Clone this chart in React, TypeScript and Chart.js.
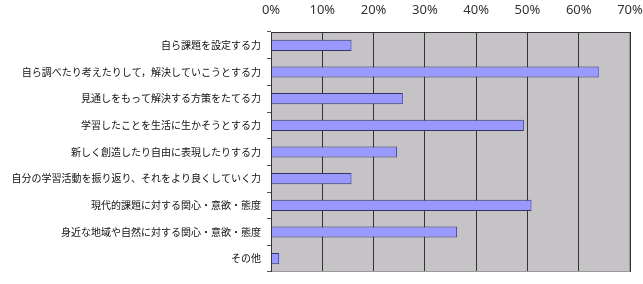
import React, { useEffect, useRef } from "react";
import { Chart, registerables } from "chart.js";

Chart.register(...registerables);

const categories = [
  "自ら課題を設定する力",
  "自ら調べたり考えたりして，解決していこうとする力",
  "見通しをもって解決する方策をたてる力",
  "学習したことを生活に生かそうとする力",
  "新しく創造したり自由に表現したりする力",
  "自分の学習活動を振り返り、それをより良くしていく力",
  "現代的課題に対する関心・意欲・態度",
  "身近な地域や自然に対する関心・意欲・態度",
  "その他",
];
const values = [15.7, 63.9, 25.7, 49.3, 24.6, 15.7, 50.8, 36.3, 1.6];
const xTicks = [0, 10, 20, 30, 40, 50, 60, 70];

const bgPlugin = {
  id: "plotBg",
  beforeDraw(chart: any) {
    const { ctx, chartArea } = chart;
    if (!chartArea) return;
    ctx.save();
    ctx.fillStyle = "#c6c3c6";
    ctx.fillRect(chartArea.left, chartArea.top, chartArea.right - chartArea.left, chartArea.bottom - chartArea.top);
    ctx.restore();
  },
  afterDatasetsDraw(chart: any) {
    const { ctx, chartArea } = chart;
    ctx.save();
    ctx.strokeStyle = "#9a9a9a";
    ctx.lineWidth = 1;
    ctx.beginPath();
    ctx.moveTo(chartArea.right - 0.5, chartArea.top);
    ctx.lineTo(chartArea.right - 0.5, chartArea.bottom - 0.5);
    ctx.lineTo(chartArea.left, chartArea.bottom - 0.5);
    ctx.stroke();
    ctx.strokeStyle = "#333";
    ctx.beginPath();
    ctx.moveTo(chartArea.left + 0.5, chartArea.bottom);
    ctx.lineTo(chartArea.left + 0.5, chartArea.top + 0.5);
    ctx.lineTo(chartArea.right, chartArea.top + 0.5);
    ctx.stroke();
    ctx.restore();
  },
};

export default function App() {
  const ref = useRef<HTMLCanvasElement>(null);
  useEffect(() => {
    document.body.style.margin = "0";
    const chart = new Chart(ref.current!, {
      type: "bar",
      data: {
        labels: categories,
        datasets: [
          {
            data: values,
            backgroundColor: "#9999ff",
            borderColor: "#333366",
            borderWidth: 1,
            barPercentage: 0.42,
            categoryPercentage: 1,
          },
        ],
      },
      options: {
        indexAxis: "y",
        animation: false,
        responsive: false,
        layout: { padding: { left: 0, right: 13, top: 0, bottom: 5 } },
        plugins: { legend: { display: false }, tooltip: { enabled: false } },
        scales: {
          x: {
            position: "top",
            min: 0,
            max: 70,
            afterBuildTicks: (s: any) => {
              s.ticks = xTicks.map((v) => ({ value: v }));
            },
            afterFit: (s: any) => {
              s.height = 32;
              s.paddingLeft = 0;
              s.paddingRight = 0;
            },
            border: { display: false },
            grid: { color: "#333", drawTicks: false, lineWidth: 1 },
            ticks: {
              callback: (v: any) => v + "%",
              font: { family: "Noto Sans", size: 13 },
              color: "#333",
              padding: 14,
              maxRotation: 0,
            },
          },
          y: {
            afterFit: (s: any) => {
              s.width = 271;
            },
            border: { display: false },
            grid: { drawOnChartArea: false, offset: true, tickLength: 4, color: "#555" },
            ticks: {
              font: { family: "Noto Sans CJK JP", size: 10 },
              color: "#111",
              padding: 6,
              autoSkip: false,
            },
          },
        },
      },
      plugins: [bgPlugin],
    });
    return () => chart.destroy();
  }, []);
  return <canvas ref={ref} width={643} height={284} style={{ display: "block" }} />;
}
